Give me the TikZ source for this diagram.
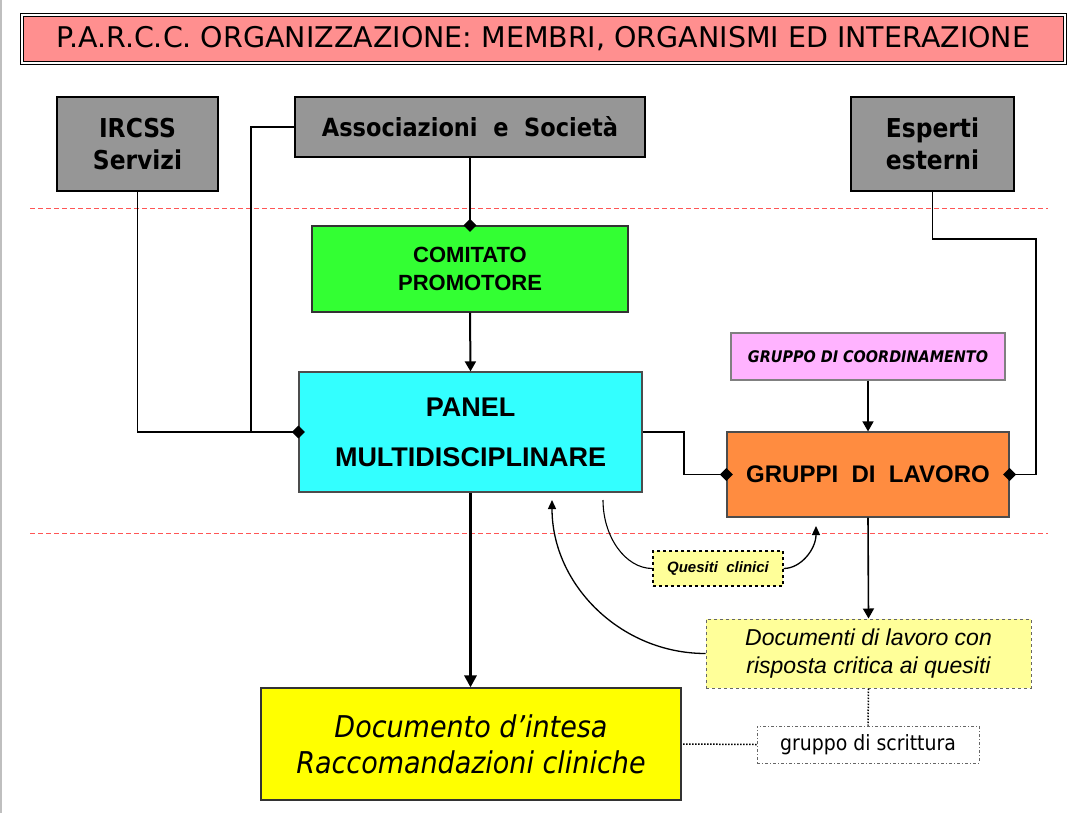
\documentclass[tikz,border=0pt]{standalone}
\usepackage{fontspec}
\setmainfont{Liberation Sans}
\newfontfamily\tahoma{DejaVu Sans Condensed}
\newfontfamily\verdana{DejaVu Sans}
\usetikzlibrary{shapes.geometric,arrows.meta}

\definecolor{titlered}{RGB}{255,143,143}
\definecolor{boxgray}{RGB}{150,150,150}
\definecolor{promgreen}{RGB}{51,255,51}
\definecolor{panelcyan}{RGB}{51,255,255}
\definecolor{coordpink}{RGB}{255,179,255}
\definecolor{lavorange}{RGB}{255,140,64}
\definecolor{paleyellow}{RGB}{255,255,153}
\definecolor{docyellow}{RGB}{255,255,0}
\definecolor{sepred}{RGB}{255,85,85}

\newcommand{\fsz}[2]{\fontsize{#1}{#2}\selectfont}

\begin{document}
\begin{tikzpicture}[x=1pt, y=-1pt,
  box/.style={draw, line width=1.2pt, align=center, inner sep=0pt},
  link/.style={line width=1.6pt},
  dmd/.style={diamond, fill, inner sep=0pt, minimum size=13pt},
  tip/.style={-{Triangle[length=10pt,width=11pt]}},
  dots/.style={line width=1.5pt, dash pattern=on 1.5pt off 1.5pt},
  sep/.style={sepred, line width=1.2pt, dash pattern=on 5pt off 3pt}]
\useasboundingbox (0,0) rectangle (1086,813);
\draw[black!25, line width=2.5pt] (1,0) -- (1,813);
% title
\node[box, fill=titlered, double, double distance=2pt, line width=1pt, minimum width=1043.5pt, minimum height=48pt, font=\verdana\fsz{28.5}{32}] (title) at (543.25,39) {P.A.R.C.C. ORGANIZZAZIONE: MEMBRI, ORGANISMI ED INTERAZIONE};
% separators
\draw[sep] (30,208.5) -- (1048,208.5);
\draw[sep] (30,533.5) -- (1048,533.5);
% members
\node[box, fill=boxgray, minimum width=161pt, minimum height=94pt, font=\tahoma\bfseries\fsz{26}{32}] (ircss) at (137.5,144) {IRCSS\\Servizi};
\node[box, fill=boxgray, minimum width=350pt, minimum height=60pt, font=\tahoma\bfseries\fsz{25}{32}] (assoc) at (470,127) {Associazioni~~e~~Società};
\node[box, fill=boxgray, minimum width=163pt, minimum height=94pt, font=\tahoma\bfseries\fsz{26}{32}] (esperti) at (932.5,144) {Esperti\\esterni};
% organisms
\node[box, fill=promgreen, draw=black!80, minimum width=316pt, minimum height=86pt, font=\bfseries\fsz{22}{28}] (comitato) at (470,269) {COMITATO\\PROMOTORE};
\node[box, fill=panelcyan, draw=black!70, minimum width=343pt, minimum height=120pt, font=\bfseries\fsz{27}{50}] (panel) at (470.5,432) {PANEL\\MULTIDISCIPLINARE};
\node[box, fill=coordpink, draw=black!50, minimum width=274pt, minimum height=47pt, font=\tahoma\bfseries\itshape\fsz{16}{20}] (coord) at (868,356.5) {GRUPPO DI COORDINAMENTO};
\node[box, fill=lavorange, draw=black!70, minimum width=282pt, minimum height=85pt, font=\bfseries\fsz{24}{28}] (gruppi) at (868,474.5) {GRUPPI~~DI~~LAVORO};
% products
\node[box, fill=paleyellow, dashed, minimum width=130pt, minimum height=35pt, font=\bfseries\itshape\fsz{15}{18}] (quesiti) at (718,568.5) {Quesiti~~clinici};
\node[box, fill=paleyellow, draw=black!60, line width=1pt, dashed, minimum width=325pt, minimum height=69pt, font=\itshape\fsz{23}{28}] (doclav) at (868.5,653.5) {Documenti di lavoro con\\risposta critica ai quesiti};
\node[box, draw=black!60, line width=1pt, dash dot, minimum width=222pt, minimum height=37pt, font=\tahoma\fsz{21}{24}] (scrittura) at (868,744.5) {gruppo di scrittura};
\node[box, fill=docyellow, draw=black!80, minimum width=420pt, minimum height=112pt, font=\tahoma\itshape\fsz{30}{36}] (intesa) at (471,744) {Documento d’intesa\\Raccomandazioni cliniche};
% links
\coordinate (jn) at (251,432);
\coordinate (pg) at (684,432);
\coordinate (ee) at (1036,239);
\draw[link] (assoc.west) -| (jn) -- (panel.west);
\draw[link] (ircss.south) |- (jn);
\draw[link] (assoc.south) -- (comitato.north);
\draw[link] (panel.east) -- (pg) |- (gruppi.west);
\draw[link] (esperti.south) |- (ee) |- (gruppi.east);
\node[dmd] at (panel.west) {};
\node[dmd] at (comitato.north) {};
\node[dmd] at (gruppi.west) {};
\node[dmd] at (gruppi.east) {};
\draw[link, line width=2pt, tip] (comitato.south) -- (panel.north);
\draw[link, tip] (coord.south) -- (gruppi.north);
\draw[link, tip] (gruppi.south) -- (doclav.north);
\draw[link, line width=3pt, -{Triangle[length=12pt,width=12pt]}] (panel.south) -- (panel.south |- intesa.north);
\draw[dots] (doclav.south) -- (scrittura.north);
\draw[dots] (scrittura.west) -- (intesa.east);
% curved links
\coordinate (q0) at (603,500);
\coordinate (q1) at (816,526);
\coordinate (d1) at (552,500);
\draw[line width=1.1pt] (q0) .. controls (603,537) and (625.5,568.5) .. (quesiti.west);
\draw[line width=1.3pt, -{Triangle[length=9pt,width=8pt]}] (quesiti.east) .. controls (801,568.5) and (816,549) .. (q1);
\draw[line width=1.3pt, -{Triangle[length=9pt,width=8pt]}] (doclav.west) .. controls (621,653.5) and (552,585) .. (d1);
\end{tikzpicture}
\end{document}
